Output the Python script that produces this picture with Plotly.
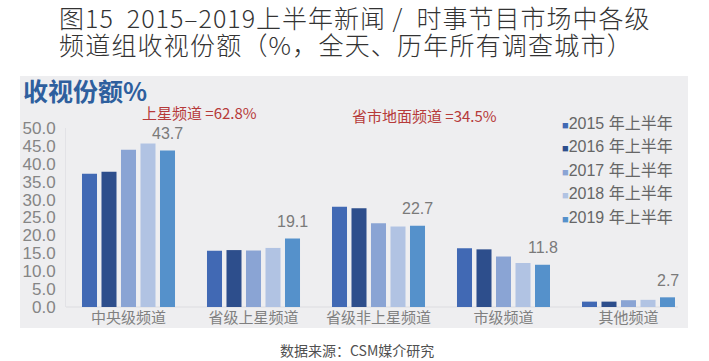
import plotly.graph_objects as go

categories = ["中央级频道", "省级上星频道", "省级非上星频道", "市级频道", "其他频道"]
series_names = ["2015 年上半年", "2016 年上半年", "2017 年上半年", "2018 年上半年", "2019 年上半年"]
v2015 = [37.2, 15.7, 28.0, 16.4, 1.5]
v2016 = [37.8, 15.9, 27.6, 16.1, 1.5]
v2017 = [43.9, 15.8, 23.4, 14.1, 1.9]
v2018 = [45.7, 16.5, 22.5, 12.3, 2.0]
v2019 = [43.7, 19.1, 22.7, 11.8, 2.7]
series_values = [v2015, v2016, v2017, v2018, v2019]
colors = ["#4169B4", "#2D4E8C", "#8AA4D4", "#B1C3E3", "#5591CB"]
y_ticks = [0, 5, 10, 15, 20, 25, 30, 35, 40, 45, 50]
y_tick_labels = [f"{t:.1f}" for t in y_ticks]

W, H = 709, 361
ML, MR, MT, MB = 66, 18, 128, 54
PW, PH = W - ML - MR, H - MT - MB

def px(x):
    return (x - ML) / PW

def py(y):
    return (H - MB - y) / PH

LAT = "Liberation Sans, Noto Sans CJK SC, sans-serif"
CJK = "Noto Sans CJK SC, Liberation Sans, sans-serif"

fig = go.Figure()
for name, vals, col in zip(series_names, series_values, colors):
    fig.add_trace(go.Bar(x=categories, y=vals, name=name, marker=dict(color=col, line=dict(width=0)),
                         showlegend=False, hoverinfo="skip"))

annotations = []
# data labels above the 2019 bars
for cat, val in zip(categories, v2019):
    annotations.append(dict(x=cat, y=val, xref="x", yref="y", text=f"{val:.1f}", showarrow=False,
                            xshift=39, yshift=17, font=dict(family=LAT, size=16, color="#7A7A7A")))

# titles
annotations.append(dict(x=px(57), y=py(17), xref="paper", yref="paper", xanchor="left", yanchor="middle",
                        text='<span style="letter-spacing:1px">图15  2015–2019上半年新闻 /  时事节目市场中各级</span>',
                        showarrow=False,
                        font=dict(family=CJK, size=25, color="#333333", weight=300)))
annotations.append(dict(x=px(57), y=py(44), xref="paper", yref="paper", xanchor="left", yanchor="middle",
                        text='<span style="letter-spacing:1.2px">频道组收视份额（%，全天、历年所有调查城市）</span>',
                        showarrow=False,
                        font=dict(family=CJK, size=25, color="#333333", weight=300)))
annotations.append(dict(x=px(21), y=py(90), xref="paper", yref="paper", xanchor="left", yanchor="middle",
                        text="<b>收视份额%</b>", showarrow=False,
                        font=dict(family=CJK, size=25, color="#2E5F9E")))
annotations.append(dict(x=px(140), y=py(113), xref="paper", yref="paper", xanchor="left", yanchor="middle",
                        text="上星频道 =62.8%", showarrow=False,
                        font=dict(family=CJK, size=15, color="#B63A3A")))
annotations.append(dict(x=px(350), y=py(115), xref="paper", yref="paper", xanchor="left", yanchor="middle",
                        text="省市地面频道 =34.5%", showarrow=False,
                        font=dict(family=CJK, size=15, color="#B63A3A")))
# legend
for i, (name, col) in enumerate(zip(series_names, colors)):
    annotations.append(dict(x=px(560), y=py(123 + 23.5 * i), xref="paper", yref="paper",
                            xanchor="left", yanchor="middle",
                            text=f'<span style="color:{col};font-size:11px">■</span>{name}', showarrow=False,
                            font=dict(family=LAT, size=16, color="#666666")))
# source
annotations.append(dict(x=px(278), y=py(350), xref="paper", yref="paper", xanchor="left", yanchor="middle",
                        text="数据来源：CSM媒介研究", showarrow=False,
                        font=dict(family=CJK, size=14, color="#505050")))

shapes = [
    dict(type="rect", xref="paper", yref="paper", x0=px(20), x1=px(688), y0=py(328), y1=py(76),
         fillcolor="#EEEEF0", line=dict(width=0), layer="below"),
    dict(type="line", xref="paper", yref="paper", x0=px(66), x1=px(678), y0=0, y1=0,
         line=dict(color="#DCDCE0", width=1), layer="below"),
]

fig.update_layout(
    width=W, height=H,
    margin=dict(l=ML, r=MR, t=MT, b=MB, pad=0),
    paper_bgcolor="#FFFFFF", plot_bgcolor="rgba(0,0,0,0)",
    barmode="group", bargap=0.22, bargroupgap=0.23,
    annotations=annotations, shapes=shapes,
    xaxis=dict(showgrid=False, showline=False, ticks="", zeroline=False,
               tickfont=dict(family=CJK, size=15, color="#808080")),
    yaxis=dict(range=[0, 50], tickvals=y_ticks, ticktext=y_tick_labels, showgrid=False,
               zeroline=False, showline=True, linecolor="#E2E2E6", linewidth=1, ticks="",
               ticklabelstandoff=6,
               tickfont=dict(family=LAT, size=17, color="#858585")),
)

fig.write_html("out.html", config={"displayModeBar": False},
               post_script="document.body.style.margin='0px';")
